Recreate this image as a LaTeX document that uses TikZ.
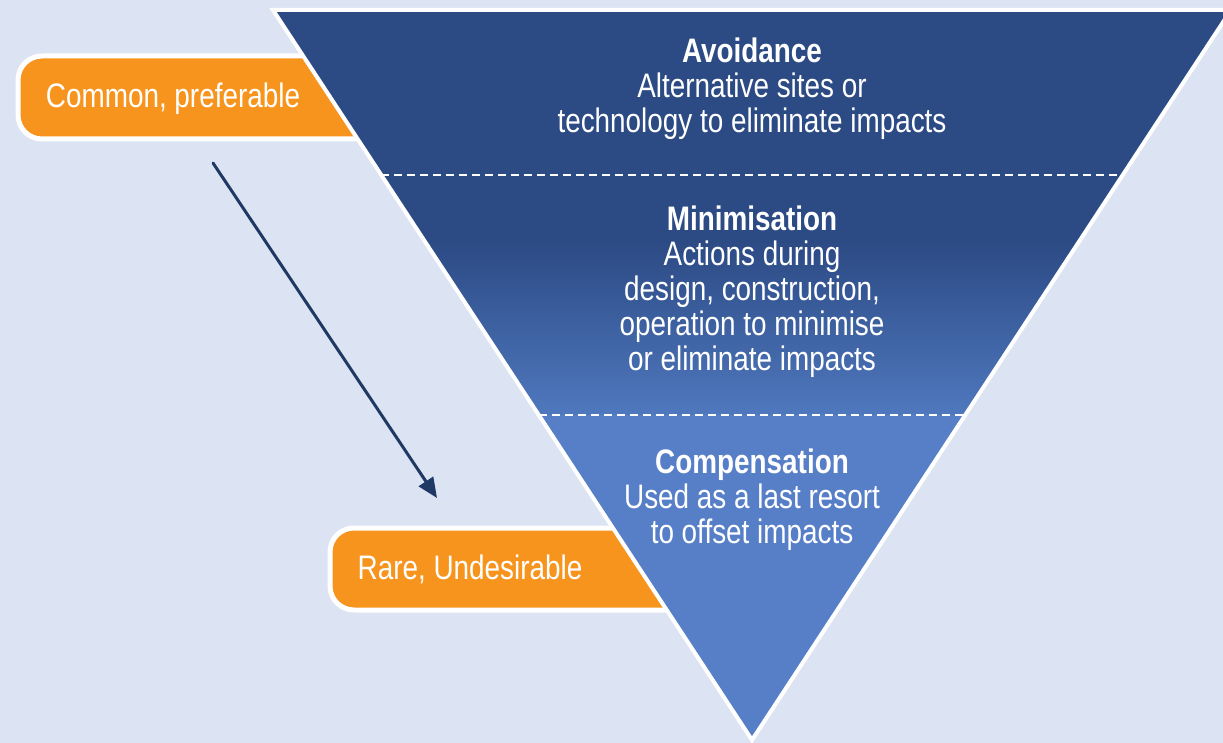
\documentclass[tikz,border=0pt]{standalone}
\usepackage{fontspec}
\setmainfont[FakeStretch=0.82]{Liberation Sans}
\usetikzlibrary{positioning, arrows.meta, calc}
\definecolor{bgblue}{HTML}{DCE3F2}
\definecolor{darkblue}{HTML}{2C4A84}
\definecolor{midblue}{HTML}{4F78BE}
\definecolor{lightblue}{HTML}{577FC8}
\definecolor{taborange}{HTML}{F7941D}
\definecolor{arrowblue}{HTML}{1F3864}
\tikzset{
level/.style={text=white, align=center, inner sep=0pt, font=\fontsize{34}{35}\selectfont}, % text inside the triangle
tab/.style={fill=taborange, draw=white, line width=5pt, rounded corners=24pt}, % orange side labels
tabtext/.style={text=white, inner sep=0pt, font=\fontsize{34}{35}\selectfont}, % text on the labels
divider/.style={white, line width=1.5pt, dash pattern=on 8pt off 5pt}, % lines between the levels
}

\begin{document}
\begin{tikzpicture}[x=1pt, y=-1pt]
      \useasboundingbox[fill=bgblue] (0,0) rectangle (1223,743);
      \coordinate (tl) at (273,10);
      \coordinate (tr) at (1231,10);
      \coordinate (apex) at (752,740);
      % orange labels, their right ends go under the triangle
      \draw[tab] (420,56) -- (18,56) -- (18,139) -- (420,139);
      \draw[tab] (720,528) -- (330,528) -- (330,610) -- (720,610);
      % the triangle
      \begin{scope}
        \clip (tl) -- (tr) -- (apex) -- cycle;
        \fill[darkblue] (0,0) rectangle (1223,240);
        \shade[top color=darkblue, bottom color=midblue] (0,240) rectangle (1223,415);
        \fill[lightblue] (0,415) rectangle (1223,743);
      \end{scope}
      \draw[white, line width=4pt] (tl) -- (tr) -- (apex) -- cycle;
      \draw[divider] ($(tl)!0.226!(apex)$) -- ($(tr)!0.226!(apex)$);
      \draw[divider] ($(tl)!0.5548!(apex)$) -- ($(tr)!0.5548!(apex)$);
      \node[level] (avoid) at (752,89) {{\bfseries Avoidance}\\Alternative sites or\\technology to eliminate impacts};
      \node[level] (minimise) at (752,292) {{\bfseries Minimisation}\\Actions during\\design, construction,\\operation to minimise\\or eliminate impacts};
      \node[level] (compensate) at (752,500) {{\bfseries Compensation}\\Used as a last resort\\to offset impacts};
      \node[tabtext] (common) at (173,99) {Common, preferable};
      \node[tabtext] (rare) at (470,569) {Rare, Undesirable};
      \coordinate (arrowtop) at (213,163);
      \coordinate (arrowtip) at (437,498);
      \draw[arrowblue, line width=3pt, line cap=round, -{Triangle[length=20pt, width=17pt]}] (arrowtop) -- (arrowtip);
\end{tikzpicture}
\end{document}
